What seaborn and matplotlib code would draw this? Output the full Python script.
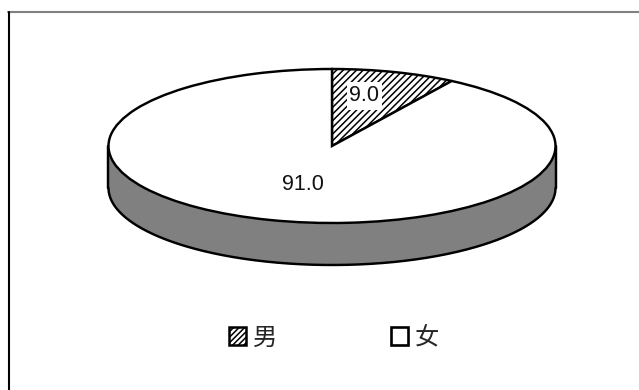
import numpy as np
import matplotlib
matplotlib.use("Agg")
import matplotlib.pyplot as plt
from matplotlib.lines import Line2D
from matplotlib.patches import Patch, Rectangle
import seaborn as sns

categories = ["男", "女"]
shares = [9.0, 91.0]

sns.set_theme(style="white")
plt.rcParams["font.family"] = ["Liberation Sans", "Noto Sans CJK SC", "DejaVu Sans"]
plt.rcParams["hatch.linewidth"] = 1.1

W, H = 639, 390
CX, CY, RX, RY, DEPTH = 332, 146, 223.5, 77, 42
OUTLINE = 1.75

fig = plt.figure(figsize=(W / 100, H / 100), dpi=100, facecolor="white")
ax = fig.add_axes([0, 0, 1, 1])

# Rim of the disc: the front half of the ellipse extruded downward
t = np.linspace(np.pi, 2 * np.pi, 300)
d = DEPTH / RY
ax.fill_between(np.cos(t), np.sin(t), np.sin(t) - d, color="#808080", lw=0, zorder=1)
ax.plot(np.cos(t), np.sin(t) - d, color="black", lw=OUTLINE, zorder=2)
ax.plot([-1, -1], [0, -d], color="black", lw=OUTLINE, zorder=2)
ax.plot([1, 1], [0, -d], color="black", lw=OUTLINE, zorder=2)

# Top face, squashed into an ellipse by the free aspect ratio
wedges, _ = ax.pie(shares, startangle=90, counterclock=False, radius=1, frame=True,
                   center=(0, 0),
                   colors=["white", "white"],
                   wedgeprops=dict(edgecolor="black", linewidth=OUTLINE, zorder=3))
wedges[0].set_hatch("/////")

ax.set_aspect("auto")
ax.set_xlim(-CX / RX, (W - CX) / RX)
ax.set_ylim(-(H - CY) / RY, CY / RY)
ax.set_xticks([])
ax.set_yticks([])
for s in ax.spines.values():
    s.set_visible(False)

# Value labels; the smaller one sits on a white plate over the hatching
ax.add_patch(Rectangle(((347 - CX) / RX, (CY - 110) / RY), 35 / RX, 28 / RY,
                       facecolor="white", edgecolor="none", zorder=4))
ax.text((364.5 - CX) / RX, (CY - 95) / RY, f"{shares[0]:.1f}", ha="center", va="center",
        fontsize=15.5, color="#111111", zorder=5)
ax.text((303 - CX) / RX, (CY - 184.5) / RY, f"{shares[1]:.1f}", ha="center", va="center",
        fontsize=15.5, color="#111111", zorder=5)

# Chart frame: grey top edge and black left edge only
fig.add_artist(Line2D([8 / W, 1], [1 - 12 / H, 1 - 12 / H], transform=fig.transFigure,
                      color="#808080", lw=1.5))
fig.add_artist(Line2D([8.5 / W, 8.5 / W], [0, 1 - 12 / H], transform=fig.transFigure,
                      color="black", lw=1.5))

# Legend
handles = [Patch(facecolor="white", edgecolor="black", hatch="//////", lw=1.8),
           Patch(facecolor="white", edgecolor="black", lw=1.9)]
leg = ax.legend(handles, categories, ncol=2, loc="center", bbox_to_anchor=(334 / W, 1 - 337.5 / H),
                bbox_transform=fig.transFigure, frameon=False,
                prop=dict(family=["Noto Sans CJK SC", "DejaVu Sans"], size=17.5),
                handlelength=0.7, handleheight=0.7, handletextpad=0.3, columnspacing=4.65)

fig.savefig("out.png", dpi=100, facecolor="white")
